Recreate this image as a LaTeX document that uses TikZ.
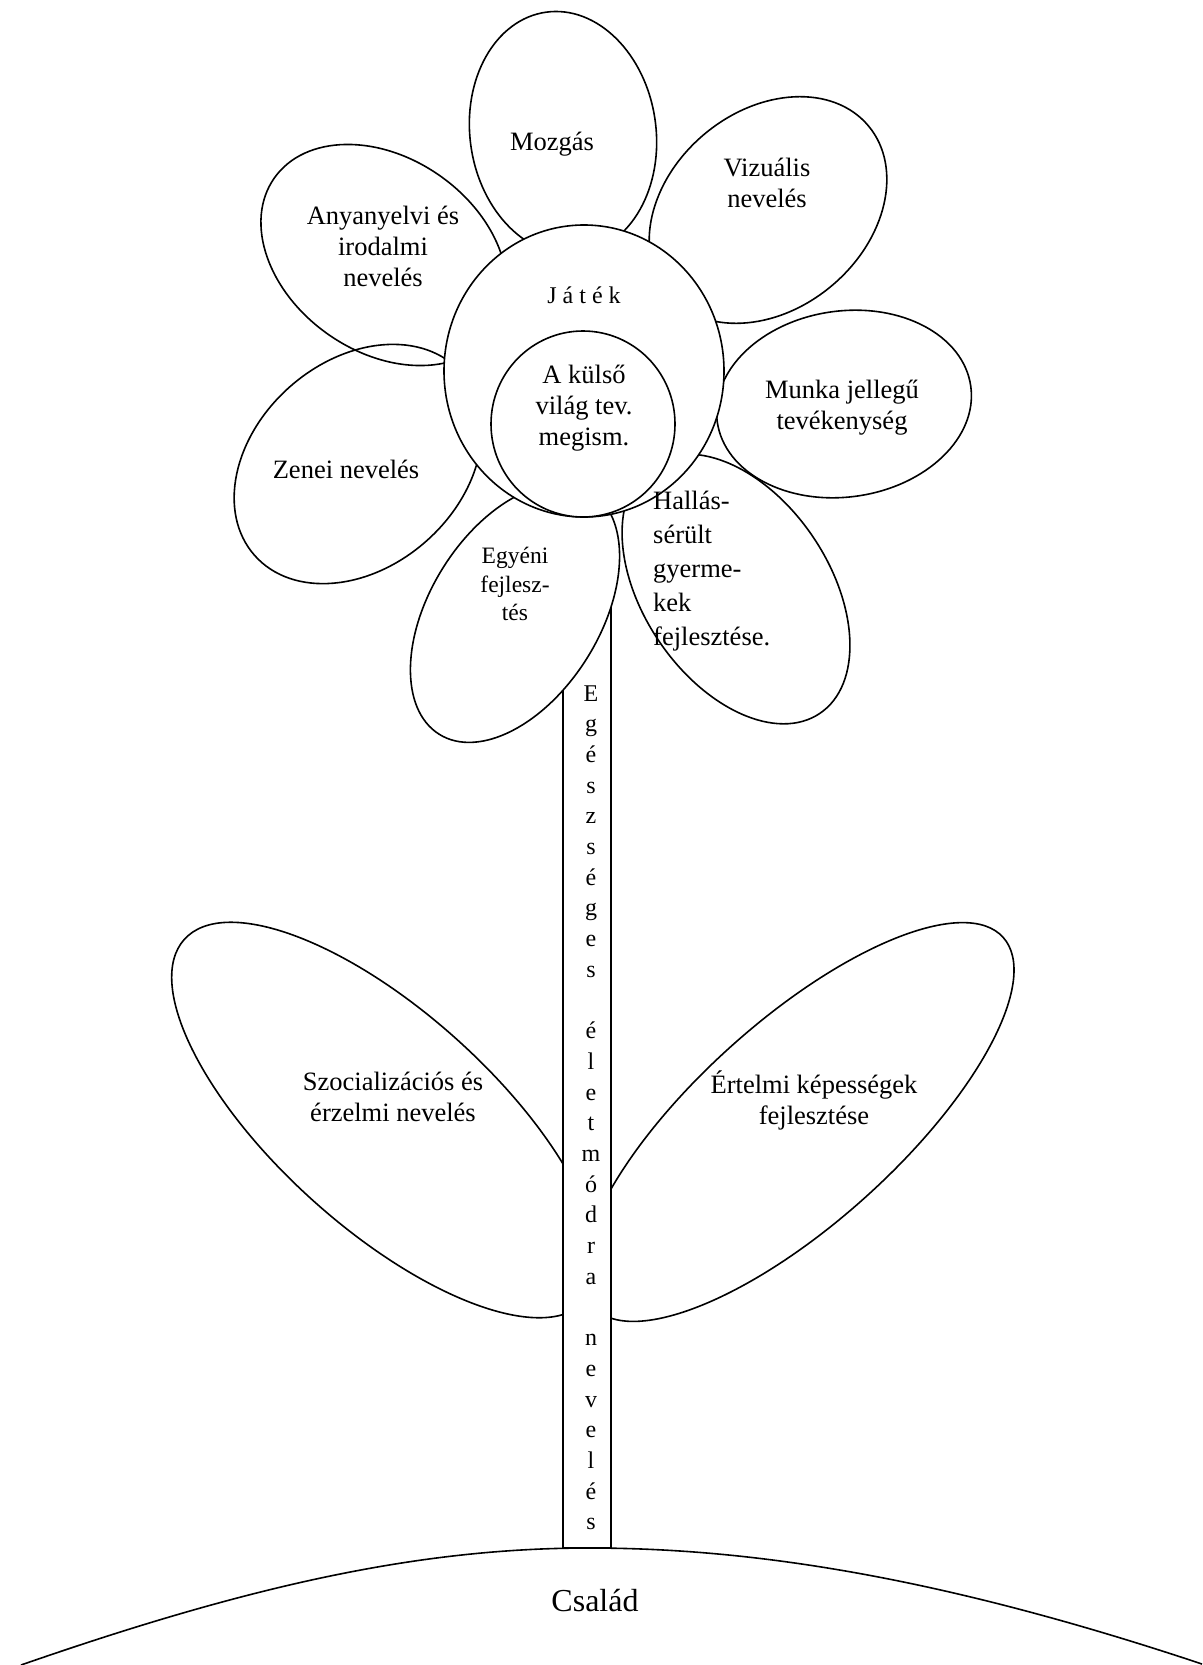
\documentclass[tikz,border=0pt]{standalone}
\usepackage{fontspec}
\setmainfont{Liberation Serif}
\usetikzlibrary{positioning}

\tikzset{
  outline/.style={line width=1.6pt, color=black},
  lbl/.style={font=\fontsize{26.5}{31}\selectfont, align=center, inner sep=0pt},
  stemch/.style={font=\fontsize{24}{24}\selectfont, anchor=base, inner sep=0pt}
}

\begin{document}
\begin{tikzpicture}[x=1pt, y=1pt]
            \useasboundingbox (0,0) rectangle (1202,-1665);
            \draw[outline] (21,-1665) .. controls (251,-1585) and (420,-1548) .. (589,-1548) .. controls (760,-1548) and (950,-1580) .. (1202,-1664);
            \draw[outline, fill=white] (385,-1120) ellipse [x radius=270, y radius=108, rotate=-42];
            \draw[outline, fill=white] (798,-1122) ellipse [x radius=276, y radius=101, rotate=42];
            \draw[outline, fill=white] (563,-470) rectangle (611,-1548);
            % petals: fill first, outlines after
            \foreach \cx/\cy/\rx/\ry/\rot in {563/-133/93/122/8, 768/-210/131/99/40, 384/-255/134/97/-35, 844/-404/128/93/8, 358/-464/138/103/41.5, 736/-589/150/93/-56, 515/-613/143/85/58}
                \fill[white] (\cx,\cy) ellipse [x radius=\rx, y radius=\ry, rotate=\rot];
            \foreach \cx/\cy/\rx/\ry/\rot in {563/-133/93/122/8, 768/-210/131/99/40, 384/-255/134/97/-35, 844/-404/128/93/8, 358/-464/138/103/41.5, 736/-589/150/93/-56, 515/-613/143/85/58}
                \draw[outline] (\cx,\cy) ellipse [x radius=\rx, y radius=\ry, rotate=\rot];
            \draw[outline, fill=white] (584,-371) ellipse [x radius=140, y radius=146];
            \draw[outline, fill=white] (583,-424) ellipse [x radius=92, y radius=93];
            \node[lbl] (mozgas) at (552,-144) {Mozgás};
            \node[lbl] (vizualis) at (767,-183) {Vizuális\\nevelés};
            \node[lbl] (anyanyelv) at (383,-246) {Anyanyelvi és\\irodalmi\\nevelés};
            \node[lbl, font=\fontsize{24}{28}\selectfont] (jatek) at (584,-295) {J á t é k};
            \node[lbl] (kulso) at (584,-408) {A külső\\világ tev.\\megism.};
            \node[lbl] (munka) at (842,-408) {Munka jellegű\\tevékenység};
            \node[lbl] (zenei) at (346,-469) {Zenei nevelés};
            \node[lbl, font=\fontsize{23.5}{28.7}\selectfont] (egyeni) at (515,-584) {Egyéni\\fejlesz-\\tés};
            \node[lbl, align=left, anchor=west, font=\fontsize{26.5}{34}\selectfont] (hallas) at (653,-571) {Hallás-\\sérült\\gyerme-\\kek\\fejlesztése.};
            \node[lbl] (szoc) at (393,-1097) {Szocializációs és\\érzelmi nevelés};
            \node[lbl] (ertelmi) at (814,-1100) {Értelmi képességek\\fejlesztése};
            \node[lbl, font=\fontsize{32}{36}\selectfont] (csalad) at (595,-1601) {Család};
            \foreach \ch [count=\i] in {E,g,é,s,z,s,é,g,e,s,{},é,l,e,t,m,ó,d,r,a,{},n,e,v,e,l,é,s}
                \node[stemch] (st\i) at (591,{-701-(\i-1)*30.7}) {\ch};
\end{tikzpicture}
\end{document}
